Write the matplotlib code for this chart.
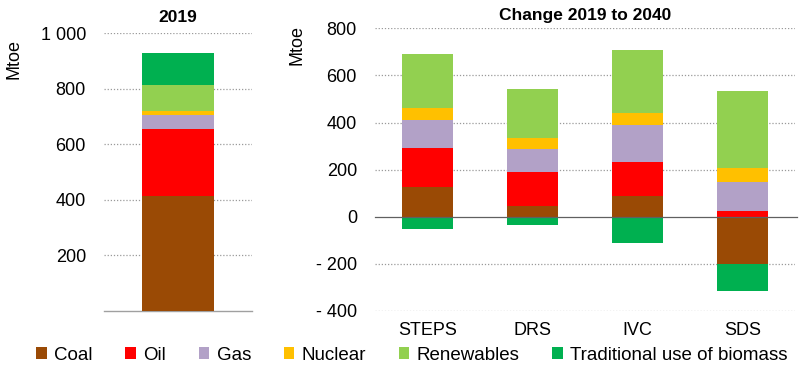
import matplotlib
matplotlib.use("Agg")
import matplotlib.pyplot as plt
import numpy as np
from matplotlib.patches import Patch

plt.rcParams['font.family'] = ['Liberation Sans', 'DejaVu Sans']

fuels = ["Coal", "Oil", "Gas", "Nuclear", "Renewables", "Traditional use of biomass"]
colors = ["#9A4A05", "#FF0000", "#B2A1C7", "#FFC000", "#92D050", "#00B050"]

base_2019 = [414, 240, 52, 14, 94, 114]

scenarios = ["STEPS", "DRS", "IVC", "SDS"]
change_coal = [127, 47, 88, -202]
change_oil = [167, 144, 143, 25]
change_gas = [116, 98, 158, 122]
change_nuclear = [52, 44, 53, 61]
change_renew = [231, 211, 266, 327]
change_biomass = [-50, -37, -112, -114]

left_ticks = [200, 400, 600, 800, 1000]
left_ticklabels = ["200", "400", "600", "800", "1 000"]
right_ticks = [-400, -200, 0, 200, 400, 600, 800]
right_ticklabels = ["- 400", "- 200", "0", "200", "400", "600", "800"]

fig = plt.figure(figsize=(8, 3.75), dpi=100)
ax1 = fig.add_axes([0.13, 0.1707, 0.185, 0.7405])
ax2 = fig.add_axes([0.46875, 0.1707, 0.525, 0.7538])

grid_kw = dict(color="#9a9a9a", linestyle=(0, (1, 1.5)), linewidth=0.9, zorder=0)
fs = 13

# Left panel
bottom = 0
for v, c in zip(base_2019, colors):
    ax1.bar(0, v, bottom=bottom, width=0.486, color=c, zorder=3, linewidth=0)
    bottom += v
ax1.set_xlim(-0.5, 0.5)
ax1.set_ylim(0, 1000)
for t in left_ticks:
    ax1.axhline(t, **grid_kw)
ax1.set_yticks(left_ticks)
ax1.set_yticklabels(left_ticklabels, fontsize=fs)
ax1.set_xticks([])
for s in ["top", "right", "left"]:
    ax1.spines[s].set_visible(False)
ax1.spines["bottom"].set_color("#a0a0a0")
ax1.spines["bottom"].set_linewidth(1.0)
ax1.tick_params(axis="y", length=0, pad=13)
ax1.set_title("2019", fontsize=12.5, fontweight="bold", pad=8)

# Right panel
changes = [change_coal, change_oil, change_gas, change_nuclear, change_renew, change_biomass]
x = np.arange(len(scenarios))
pos_bottom = np.zeros(len(scenarios))
neg_bottom = np.zeros(len(scenarios))
for vals, c in zip(changes, colors):
    vals = np.array(vals, dtype=float)
    b = np.where(vals >= 0, pos_bottom, neg_bottom)
    ax2.bar(x, vals, bottom=b, width=0.495, color=c, zorder=3, linewidth=0)
    pos_bottom += np.where(vals >= 0, vals, 0)
    neg_bottom += np.where(vals < 0, vals, 0)
ax2.set_xlim(-0.5, 3.5)
ax2.set_ylim(-400, 800)
for t in right_ticks:
    if t != 0:
        ax2.axhline(t, **grid_kw)
ax2.axhline(0, color="#606060", linewidth=0.9, zorder=4, xmax=1.005, clip_on=False)
ax2.set_yticks(right_ticks)
ax2.set_yticklabels(right_ticklabels, fontsize=fs)
ax2.set_xticks(x)
ax2.set_xticklabels(scenarios, fontsize=fs)
for s in ax2.spines.values():
    s.set_visible(False)
ax2.tick_params(axis="y", length=0, pad=13)
ax2.tick_params(axis="x", length=0, pad=8)
ax2.set_title("Change 2019 to 2040", fontsize=12.5, fontweight="bold", pad=6)

fig.text(0.018, 0.842, "Mtoe", rotation=90, fontsize=fs, ha="center", va="center")
fig.text(0.371, 0.88, "Mtoe", rotation=90, fontsize=fs, ha="center", va="center")

handles = [Patch(facecolor=c, edgecolor="none") for c in colors]
fig.legend(handles, fuels, loc="center", bbox_to_anchor=(0.515, 0.053), ncol=6,
           frameon=False, fontsize=13.5, handlelength=0.55, handleheight=0.55,
           handletextpad=0.4, columnspacing=1.75, borderaxespad=0)

fig.savefig("out.png", dpi=100)
